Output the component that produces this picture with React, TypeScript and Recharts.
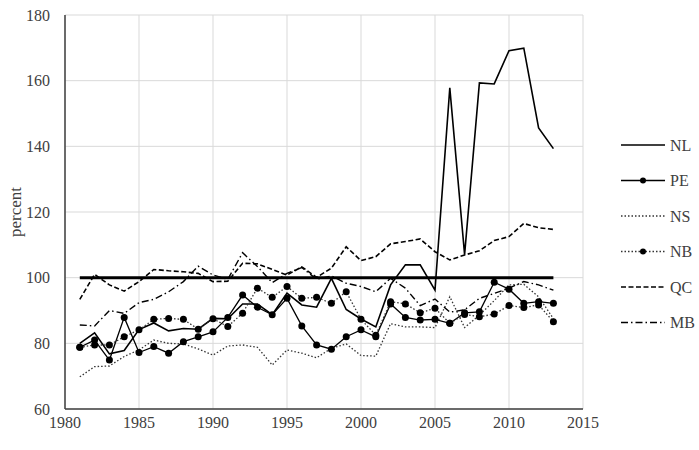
import React from 'react';
import {
  LineChart,
  Line,
  XAxis,
  YAxis,
  CartesianGrid,
} from 'recharts';

const years = [
  1981, 1982, 1983, 1984, 1985, 1986, 1987, 1988, 1989, 1990,
  1991, 1992, 1993, 1994, 1995, 1996, 1997, 1998, 1999, 2000,
  2001, 2002, 2003, 2004, 2005, 2006, 2007, 2008, 2009, 2010,
  2011, 2012, 2013,
];

const nl = [
  80, 83.2, 76.8, 77.8, 84.2, 86.2, 83.8, 84.5, 84.3, 87.6,
  87.5, 92, 92, 88.7, 95.3, 91.7, 91, 99.8, 90.3, 87.4,
  85, 97.8, 103.9, 103.9, 96.2, 157.8, 107, 159.3, 159, 169.1,
  169.9, 145.6, 139.3,
];

const pe = [
  78.8, 81, 74.9, 87.9, 77.2, 79, 77, 80.5, 82, 83.5,
  87.9, 94.7, 91, 88.7, 93.7, 85.3, 79.5, 78.2, 82, 84.1,
  82, 92, 87.9, 87.1, 87.3, 86.1, 89.3, 89.6, 98.6, 96.5,
  92.2, 92.7, 92.2,
];

const ns = [
  69.8, 72.9, 73.1, 76, 78, 81, 80, 79.8, 78.3, 76.4,
  79.2, 79.5, 78.8, 73.4, 78, 77, 75.6, 78.5, 79.8, 76.3,
  76.1, 86, 85, 85, 84.8, 94.2, 84.8, 88.6, 93, 97.8,
  98, 94.2, 87.5,
];

const nb = [
  78.8, 79.5, 79.5, 82, 84.1, 87.3, 87.6, 87.3, 84.3, 87.5,
  85.1, 89.2, 96.8, 94, 97.3, 93.7, 94, 92.2, 95.7, 87.3,
  82.5, 92.7, 92, 89.3, 90.7, 86.1, 88.8, 88.1, 88.9, 91.5,
  90.9, 91.7, 86.6,
];

const qc = [
  93.4, 101, 97.8, 95.9, 98.8, 102.5, 102.1, 101.8, 101.3, 98.8,
  98.9, 104.4, 104.2, 102.5, 100.8, 103.3, 100.1, 102.9, 109.4, 105.2,
  106.4, 110.3, 111, 111.8, 107.9, 105.4, 106.9, 108.2, 111.3, 112.5,
  116.5, 115.2, 114.7,
];

const mb = [
  85.6, 85.3, 90, 89.1, 92.4, 93.4, 95.7, 98.8, 103.5, 100.8,
  99.5, 107.6, 103.4, 98.5, 101.3, 103.1, 99.5, 100.5, 98.3, 97.3,
  95.7, 99.8, 96.8, 91.5, 93.5, 89.5, 90.2, 93.7, 95.2, 96.8,
  98.8, 97.8, 96.2,
];

const parity = 100;

const xTicks = [1980, 1985, 1990, 1995, 2000, 2005, 2010, 2015];
const yTicks = [60, 80, 100, 120, 140, 160, 180];

const data = years.map((year, i) => ({
  year,
  NL: nl[i],
  PE: pe[i],
  NS: ns[i],
  NB: nb[i],
  QC: qc[i],
  MB: mb[i],
  ref: parity,
}));

const FONT = '"Liberation Serif", serif';
const TEXT = '#404040';

// line look for each series, shared by the chart and the legend
const seriesStyles = [
  { key: 'NL', dash: undefined, width: 1.6, dot: false, color: '#000' },
  { key: 'PE', dash: undefined, width: 1.3, dot: true, color: '#000' },
  { key: 'NS', dash: '1.5 2', width: 1.3, dot: false, color: '#333' },
  { key: 'NB', dash: '1.5 2', width: 1.3, dot: true, color: '#333' },
  { key: 'QC', dash: '5 2.5', width: 1.6, dot: false, color: '#000' },
  { key: 'MB', dash: '7 3 1.5 3', width: 1.4, dot: false, color: '#000' },
];

const Legend = () => (
  <svg
    width={110}
    height={230}
    style={{ position: 'absolute', left: 600, top: 130 }}
  >
    {seriesStyles.map((s, i) => {
      const y = 15 + i * 35.5;
      return (
        <g key={s.key}>
          <line
            x1={21}
            x2={65}
            y1={y}
            y2={y}
            stroke={s.color}
            strokeWidth={s.width}
            strokeDasharray={s.dash}
          />
          {s.dot && <circle cx={43} cy={y} r={3} fill="#000" />}
          <text
            x={70}
            y={y}
            dy="0.35em"
            fontFamily={FONT}
            fontSize={16}
            fill={TEXT}
          >
            {s.key}
          </text>
        </g>
      );
    })}
  </svg>
);

const App = () => {
  return (
    <div style={{ position: 'absolute', left: 0, top: 0, width: 699, height: 450, background: '#fff' }}>
      <LineChart
        width={699}
        height={450}
        data={data}
        margin={{ top: 15, right: 116, left: 0, bottom: 11 }}
      >
        <CartesianGrid stroke="#d9d9d9" strokeWidth={1} />
        <XAxis
          dataKey="year"
          type="number"
          domain={[1980, 2015]}
          ticks={xTicks}
          height={30}
          tickLine={false}
          axisLine={{ stroke: '#404040', strokeWidth: 1.5 }}
          tick={{ fontFamily: FONT, fontSize: 16, fill: TEXT }}
        />
        <YAxis
          type="number"
          domain={[60, 180]}
          ticks={yTicks}
          width={65}
          tickLine={false}
          tickMargin={9}
          axisLine={{ stroke: '#404040', strokeWidth: 1.5 }}
          tick={{ fontFamily: FONT, fontSize: 16, fill: TEXT }}
          label={{
            value: 'percent',
            angle: -90,
            position: 'insideLeft',
            offset: 15,
            style: { fontFamily: FONT, fontSize: 17, fill: TEXT, textAnchor: 'middle' },
          }}
        />
        <Line
          dataKey="ref"
          stroke="#000"
          strokeWidth={3}
          dot={false}
          isAnimationActive={false}
        />
        {seriesStyles.map((s) => (
          <Line
            key={s.key}
            dataKey={s.key}
            type="linear"
            stroke={s.color}
            strokeWidth={s.width}
            strokeDasharray={s.dash}
            dot={s.dot ? { r: 3.5, fill: '#000', stroke: '#000', strokeWidth: 0 } : false}
            activeDot={false}
            isAnimationActive={false}
          />
        ))}
      </LineChart>
      <Legend />
    </div>
  );
};

export default App;
